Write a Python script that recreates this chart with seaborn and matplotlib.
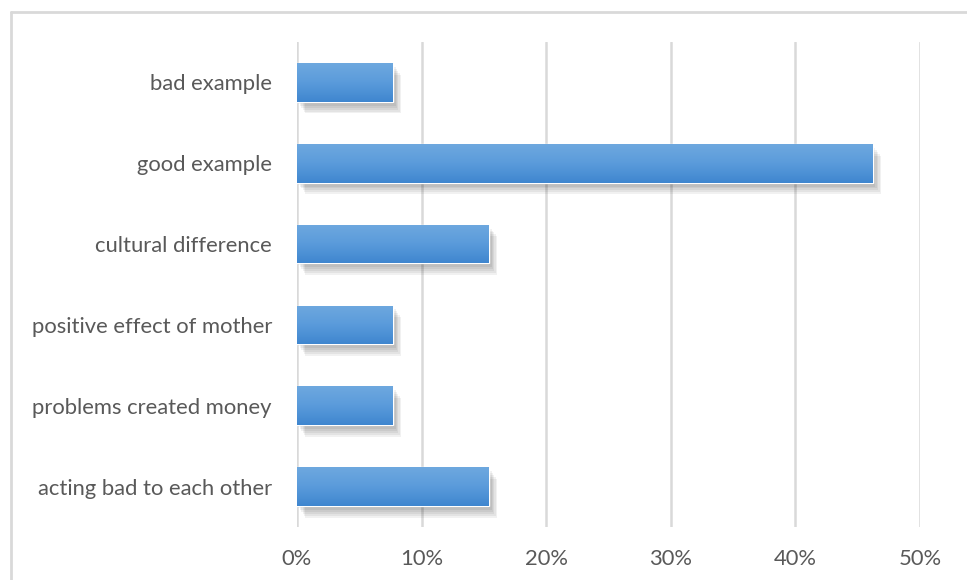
import matplotlib
matplotlib.use("Agg")
import matplotlib.pyplot as plt
import matplotlib.patheffects as pe
import numpy as np
import pandas as pd
import seaborn as sns
from matplotlib.colors import LinearSegmentedColormap

categories = ["bad example", "good example", "cultural difference",
              "positive effect of mother", "problems created money",
              "acting bad to each other"]
values = [7.7, 46.2, 15.4, 7.7, 7.7, 15.4]
tick_values = [0, 10, 20, 30, 40, 50]
tick_labels = ["0%", "10%", "20%", "30%", "40%", "50%"]

df = pd.DataFrame({"category": categories, "value": values})

sns.set_theme(style="white")
plt.rcParams["font.family"] = ["Lato", "DejaVu Sans"]

fig = plt.figure(figsize=(9.67, 5.8), dpi=100)
ax = fig.add_axes([297/967, 1-527/580, (920-297)/967, (527-42)/580])

sns.barplot(data=df, x="value", y="category", orient="h", ax=ax,
            color="#5B9BD5", width=0.48, zorder=3)

ax.set_xlim(0, 50)
ax.set_ylim(5.5, -0.5)
ax.set_xticks(tick_values)
ax.set_xticklabels(tick_labels)
ax.set_xlabel("")
ax.set_ylabel("")
for s in ax.spines.values():
    s.set_visible(False)
ax.grid(axis="x", color="#d9d9d9", linewidth=1.8, zorder=0)
ax.grid(axis="y", visible=False)
ax.tick_params(axis="both", length=0, labelsize=15.8, colors="#595959")
ax.tick_params(axis="x", pad=16)
ax.tick_params(axis="y", pad=18)

# gradient fill + soft shadow on each bar
grad = np.linspace(0, 1, 256).reshape(-1, 1)
cmap = LinearSegmentedColormap.from_list("g", ["#6EA8DF", "#5A9BDB", "#3F86CF"])
shadow_fx = [pe.SimplePatchShadow(offset=(o, -o * 1.4), shadow_rgbFace="#000000", alpha=0.055)
             for o in (1, 2, 3, 4, 5, 6)]
for p in list(ax.patches):
    x0, y0 = p.get_x(), p.get_y()
    w, h = p.get_width(), p.get_height()
    p.set_path_effects(shadow_fx + [pe.Normal()])
    im = ax.imshow(grad, extent=[x0, x0 + w, y0 + h, y0], aspect="auto",
                   cmap=cmap, zorder=4, origin="upper")
    im.set_clip_path(p)
ax.set_xlim(0, 50)
ax.set_ylim(5.5, -0.5)

# outer chart border (top and left visible)
fig.add_artist(plt.Line2D([11/967, 1], [1-12/580, 1-12/580], color="#d9d9d9", lw=2, transform=fig.transFigure))
fig.add_artist(plt.Line2D([11/967, 11/967], [0, 1-12/580], color="#d9d9d9", lw=2, transform=fig.transFigure))

fig.savefig("out.png", dpi=100)
